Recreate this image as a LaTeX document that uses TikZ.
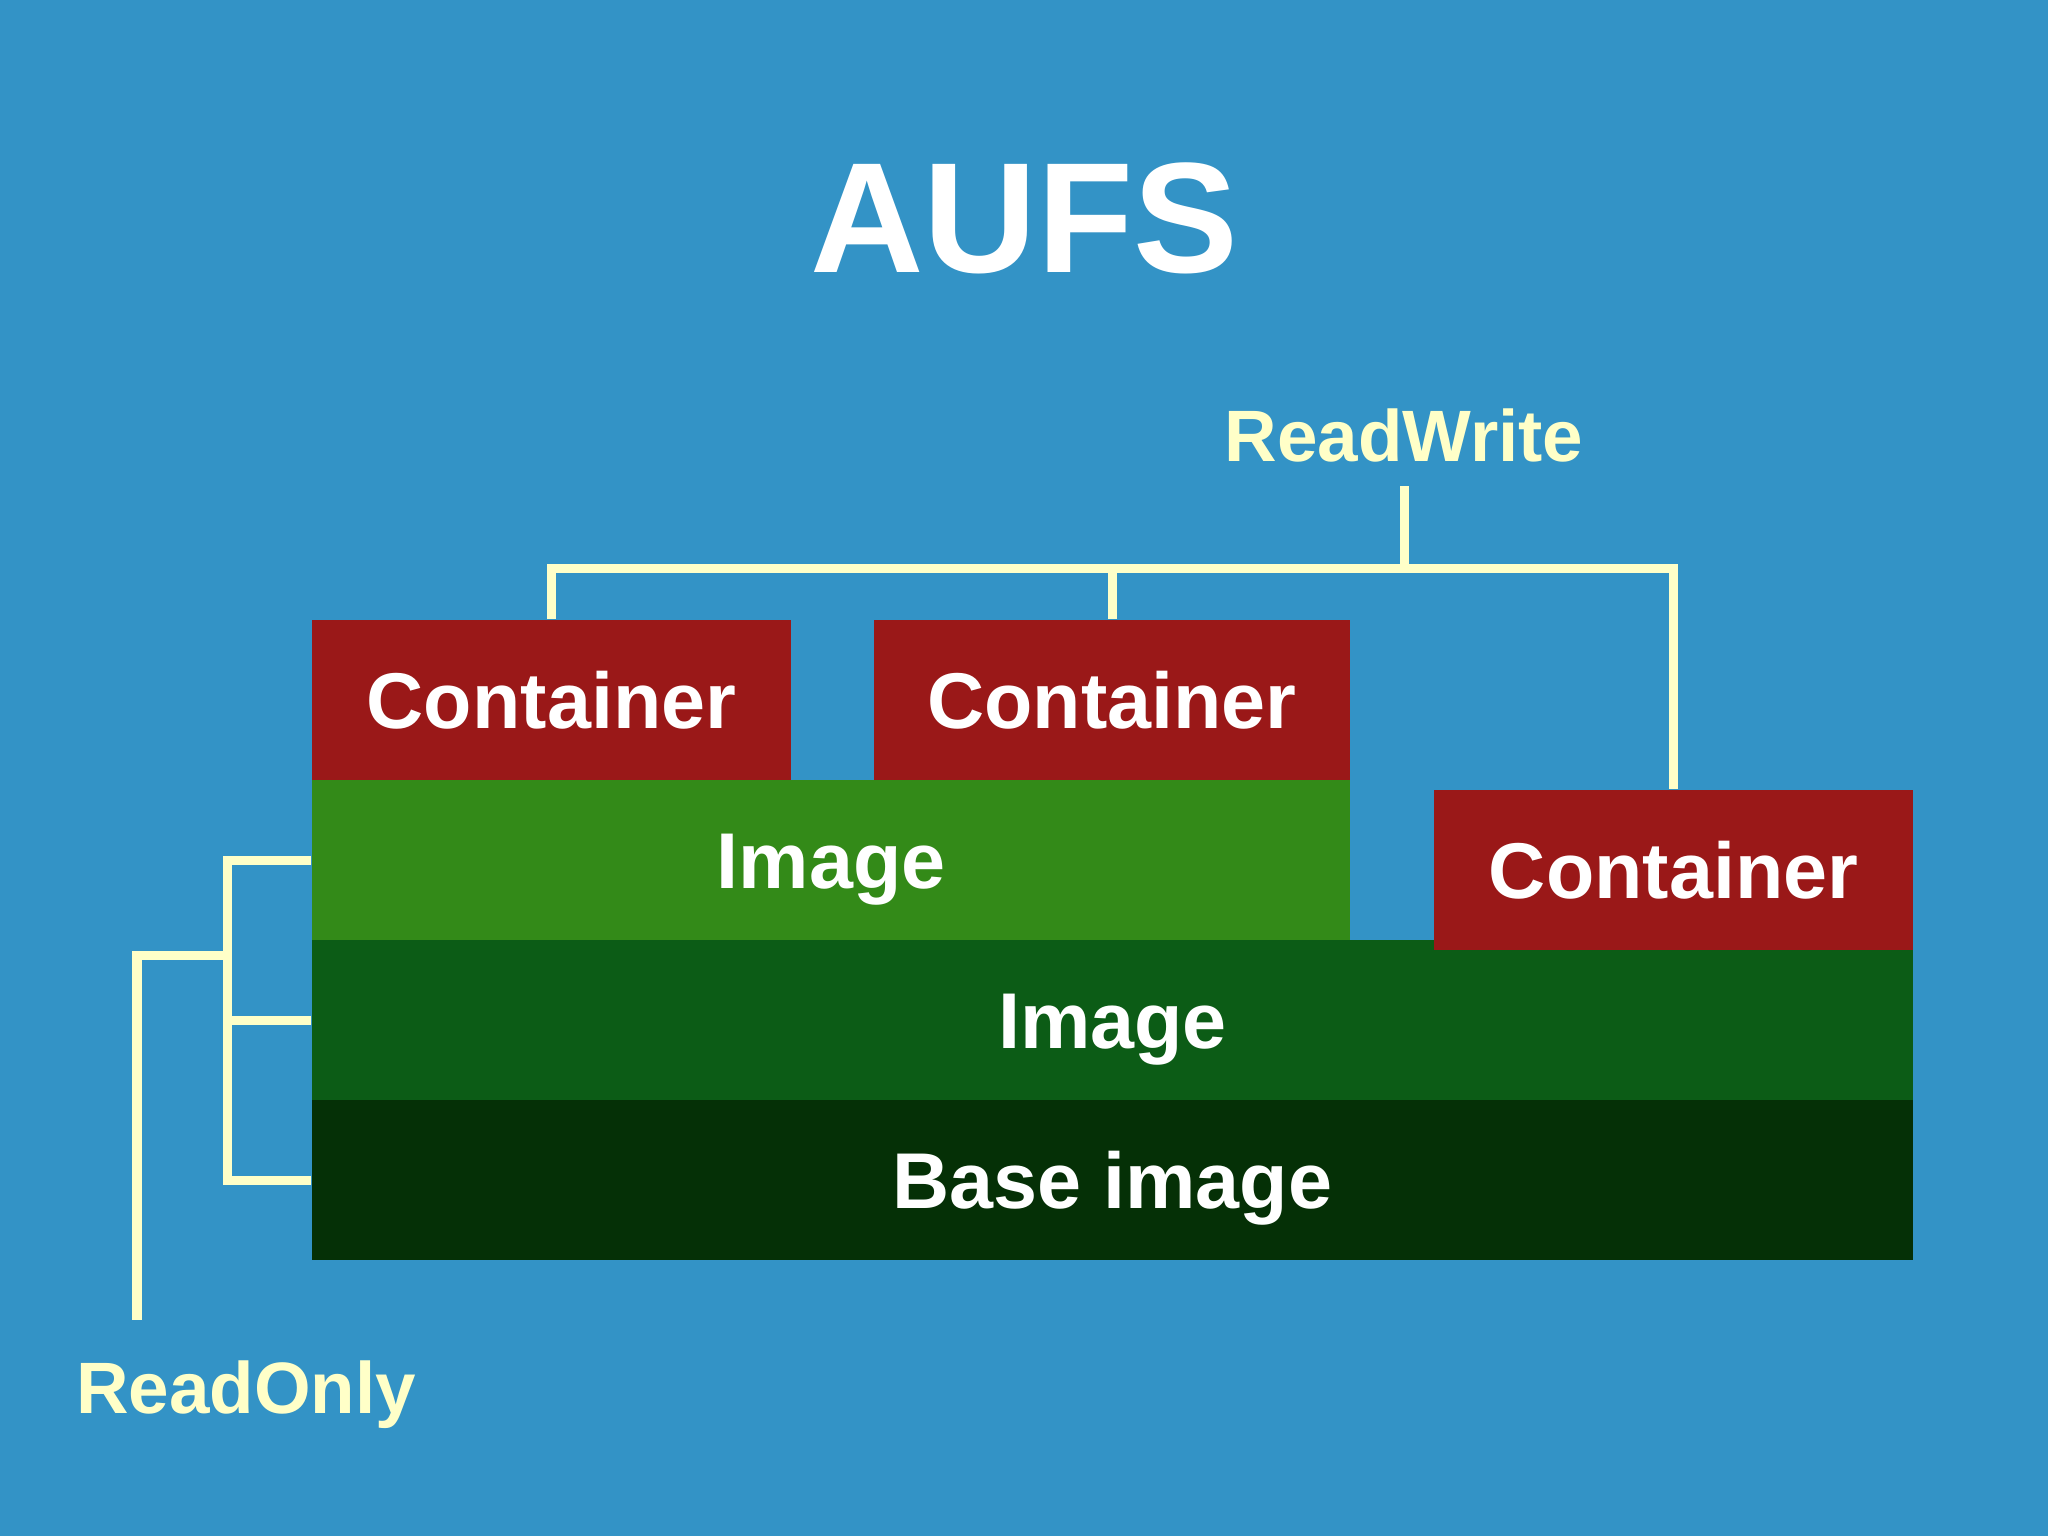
\documentclass[tikz,border=0pt]{standalone}
\usepackage{fontspec}
\setmainfont{Liberation Sans}
\usetikzlibrary{positioning}
\definecolor{bgblue}{HTML}{3393C6}
\definecolor{ctrred}{HTML}{9A1818}
\definecolor{imglight}{HTML}{338A18}
\definecolor{imgmid}{HTML}{0C5C16}
\definecolor{imgdark}{HTML}{053006}
\definecolor{pale}{HTML}{FFFFC8}

\begin{document}
\begin{tikzpicture}[x=0.01cm,y=-0.01cm,
  layer/.style={inner sep=0pt,text=white,font=\bfseries\fontsize{22.5}{27}\selectfont,text height=0.57cm,text depth=0pt,minimum height=1.6cm},
  tagtext/.style={text=pale,font=\bfseries\fontsize{20.7}{25}\selectfont,anchor=base,inner sep=0.24cm},
  bracket/.style={draw=pale,line width=0.09cm}]
\fill[bgblue] (0,0) rectangle (2048,1536);
\node[text=white,font=\bfseries\fontsize{44.7}{50}\selectfont,anchor=base] (title) at (1024,272) {AUFS};
\node[layer,fill=ctrred,minimum width=4.79cm] (c1) at (551.5,700) {Container};
\node[layer,fill=ctrred,minimum width=4.76cm] (c2) at (1112,700) {Container};
\node[layer,fill=imglight,minimum width=10.38cm] (img1) at (831,860) {Image};
\node[layer,fill=imgmid,minimum width=16.01cm] (img2) at (1112.5,1020) {Image};
\node[layer,fill=imgdark,minimum width=16.01cm] (base) at (1112.5,1180) {Base image};
\node[layer,fill=ctrred,minimum width=4.79cm] (c3) at (1673.5,870) {Container};
\node[tagtext] (rw) at (1404,461) {ReadWrite};
\coordinate (rwbar) at (1408,568);
\draw[bracket] (rw.south) -- (rw.south |- rwbar);
\draw[bracket] (c1.north) |- (rwbar) -| (c3.north);
\draw[bracket] (c2.north) -- (c2.north |- rwbar);
\node[tagtext,inner ysep=0.4cm] (ro) at (246,1413) {ReadOnly};
\coordinate (rojoin) at (227,955);
\coordinate (rocorner) at (137,955);
\draw[bracket] (img1.west) -| (base.west -| rojoin) -- (base.west);
\draw[bracket] (img2.west) -- (img2.west -| rojoin);
\draw[bracket] (rojoin) -- (rocorner) -- (rocorner |- ro.north);
\end{tikzpicture}
\end{document}
